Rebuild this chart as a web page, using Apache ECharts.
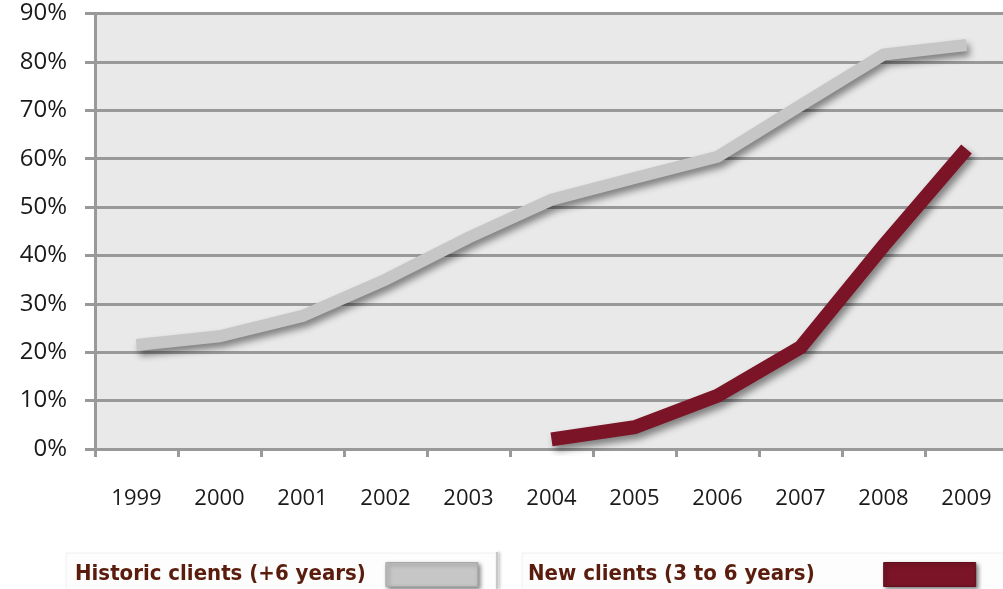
<!DOCTYPE html>
<html>
<head>
<meta charset="utf-8">
<script src="https://cdn.jsdelivr.net/npm/echarts@6/dist/echarts.min.js"></script>
<style>
  html, body { margin: 0; padding: 0; background: #ffffff; }
  #chart { width: 1003px; height: 589px; }
</style>
</head>
<body>
<div id="chart"></div>
<script>
// Years on the category axis
const years = ['1999', '2000', '2001', '2002', '2003', '2004', '2005', '2006', '2007', '2008', '2009'];
// Share of clients (percent) per year
const historicClients = [21.5, 23.3, 27.5, 35, 43.7, 51.5, 56, 60.4, 71, 81.5, 83.5];
const newClients = [null, null, null, null, null, 2, 4.5, 11, 21, 42, 62];
const seriesNames = ['Historic clients (+6 years)', 'New clients (3 to 6 years)'];
// Percent axis range
const yMin = 0, yMax = 90, yStep = 10;

const FONT = '"Open Sans", "Liberation Sans", sans-serif';
const LEGEND_FONT = '"DejaVu Sans Condensed", "Liberation Sans", sans-serif';
const GRID_GRAY = '#999999';

const chart = echarts.init(document.getElementById('chart'), null, { renderer: 'canvas' });

chart.setOption({
  animation: false,
  backgroundColor: '#ffffff',
  grid: {
    left: 95, top: 13.5, right: -5, bottom: 140,
    show: true, backgroundColor: '#e9e9e9', borderWidth: 0,
    outerBoundsMode: 'none'
  },
  xAxis: {
    type: 'category',
    data: years,
    boundaryGap: true,
    axisLine: { show: true, lineStyle: { color: GRID_GRAY, width: 3 } },
    axisTick: { show: true, length: 8, lineStyle: { color: GRID_GRAY, width: 3 } },
    axisLabel: { fontSize: 22, color: '#1a1a1a', fontFamily: FONT, margin: 39 },
    splitLine: { show: false }
  },
  yAxis: {
    type: 'value',
    min: yMin, max: yMax, interval: yStep,
    axisLine: { show: true, lineStyle: { color: GRID_GRAY, width: 3 } },
    axisTick: { show: true, length: 10, lineStyle: { color: GRID_GRAY, width: 3 } },
    axisLabel: { fontSize: 24, color: '#1a1a1a', fontFamily: FONT, margin: 28, formatter: '{value}%' },
    splitLine: { show: true, lineStyle: { color: GRID_GRAY, width: 3 } }
  },
  legend: [
    {
      data: [seriesNames[0]],
      left: 75, top: 562, padding: 0,
      align: 'right',
      icon: 'rect',
      itemWidth: 92, itemHeight: 24, itemGap: 0,
      textStyle: { fontSize: 22, fontWeight: 'bold', color: '#5a1c0c', fontFamily: LEGEND_FONT,
        padding: [0, 15, 0, 0] },
      itemStyle: { color: '#c6c6c6', borderColor: '#a8a8a8', borderWidth: 1,
        shadowColor: 'rgba(0,0,0,0.45)', shadowBlur: 4, shadowOffsetX: 2, shadowOffsetY: 2 }
    },
    {
      data: [seriesNames[1]],
      left: 528, top: 562, padding: 0,
      align: 'right',
      icon: 'rect',
      itemWidth: 92, itemHeight: 24, itemGap: 0,
      textStyle: { fontSize: 22, fontWeight: 'bold', color: '#5a1c0c', fontFamily: LEGEND_FONT,
        padding: [0, 64, 0, 0] },
      itemStyle: { color: '#7b1426', borderColor: '#5e0f1c', borderWidth: 1,
        shadowColor: 'rgba(0,0,0,0.45)', shadowBlur: 4, shadowOffsetX: 2, shadowOffsetY: 2 }
    }
  ],
  graphic: [
    { type: 'rect', shape: { x: 66, y: 553, width: 430, height: 40 }, z: -1,
      style: { fill: '#fdfdfd', stroke: '#f0f0f0', lineWidth: 1 } },
    { type: 'rect', shape: { x: 522, y: 553, width: 490, height: 40 }, z: -1,
      style: { fill: '#fdfdfd', stroke: '#f0f0f0', lineWidth: 1 } },
    { type: 'line', shape: { x1: 497, y1: 552, x2: 497, y2: 589 },
      style: { stroke: '#c8c8c8', lineWidth: 2, shadowColor: 'rgba(0,0,0,0.3)', shadowBlur: 3, shadowOffsetX: 2 } }
  ],
  series: [
    {
      name: seriesNames[0],
      type: 'line',
      data: historicClients,
      symbol: 'none',
      color: '#c6c6c6',
      lineStyle: {
        width: 12, color: '#c6c6c6', cap: 'butt', join: 'miter',
        shadowColor: 'rgba(0,0,0,0.45)', shadowBlur: 7, shadowOffsetX: 3, shadowOffsetY: 5
      },
      z: 3
    },
    {
      name: seriesNames[1],
      type: 'line',
      data: newClients,
      symbol: 'none',
      color: '#7b1426',
      lineStyle: {
        width: 14, color: '#7b1426', cap: 'butt', join: 'miter',
        shadowColor: 'rgba(0,0,0,0.45)', shadowBlur: 7, shadowOffsetX: 3, shadowOffsetY: 5
      },
      z: 4
    }
  ]
});
</script>
</body>
</html>
